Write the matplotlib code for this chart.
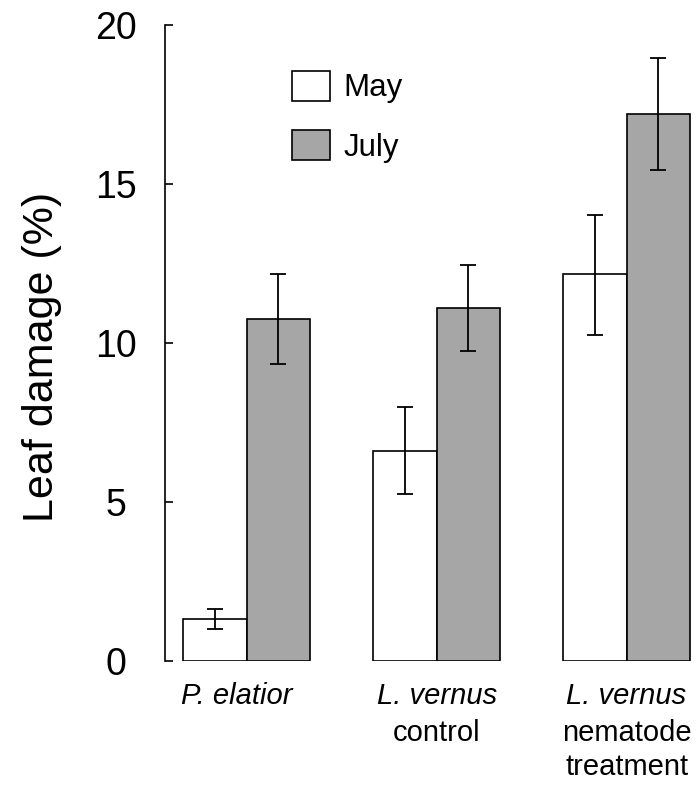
import numpy as np
import matplotlib
matplotlib.use("Agg")
import matplotlib.pyplot as plt

plt.rcParams['font.family'] = ['Liberation Sans', 'DejaVu Sans']

# data
groups = ["P. elatior", "L. vernus", "L. vernus"]
group_sub = [[], ["control"], ["nematode", "treatment"]]
may = [1.32, 6.6, 12.17]
may_lo = [1.0, 5.25, 10.25]
may_hi = [1.65, 8.0, 14.03]
july = [10.75, 11.1, 17.2]
july_lo = [9.34, 9.75, 15.44]
july_hi = [12.17, 12.45, 18.96]
yticks = [0, 5, 10, 15, 20]

fig = plt.figure(figsize=(7, 7.85), dpi=100)
ax = fig.add_axes([165/700, 1-661/785, (695-165)/700, (661-25)/785])

x = np.arange(len(groups))
w = 0.333
may_err = [np.array(may) - np.array(may_lo), np.array(may_hi) - np.array(may)]
july_err = [np.array(july) - np.array(july_lo), np.array(july_hi) - np.array(july)]
ekw = dict(elinewidth=1.3, capthick=1.3, ecolor='black')
ax.bar(x - w/2, may, w, color='white', edgecolor='black', linewidth=1.2,
       yerr=may_err, capsize=6, error_kw=ekw, label='May')
ax.bar(x + w/2, july, w, color='#a6a6a6', edgecolor='black', linewidth=1.2,
       yerr=july_err, capsize=6, error_kw=ekw, label='July')

ax.set_xlim(-0.43, 2.36)
ax.set_ylim(0, 20)
ax.set_yticks(yticks)
ax.tick_params(axis='y', direction='in', length=6, width=1.2, labelsize=27, pad=35)
for lab in ax.get_yticklabels():
    lab.set_horizontalalignment('center')
ax.set_xticks([])
for s in ['top', 'right', 'bottom']:
    ax.spines[s].set_visible(False)
ax.spines['left'].set_linewidth(1.2)
ax.set_ylabel('Leaf damage (%)', fontsize=31)
ax.yaxis.set_label_coords(-0.194, 0.478)

# category labels below the bars (pixel rows from the reference)
def row(px):
    return (661 - px) / 636

tr = ax.get_xaxis_transform()
shift = [-0.05, 0, 0]
for i in range(len(groups)):
    ax.text(x[i] + shift[i], row(704), groups[i], transform=tr, ha='center',
            va='baseline', fontsize=21, style='italic')
    for j, s in enumerate(group_sub[i]):
        ax.text(x[i], row(741 + 34*j), s, transform=tr, ha='center', va='baseline',
                fontsize=21)

ax.legend(loc='upper left', bbox_to_anchor=(0.2396, 0.928), frameon=False,
          fontsize=22.5, handlelength=1.22, handleheight=1.1, labelspacing=0.85,
          handletextpad=0.42, borderpad=0, borderaxespad=0)

fig.savefig('out.png', dpi=100)
